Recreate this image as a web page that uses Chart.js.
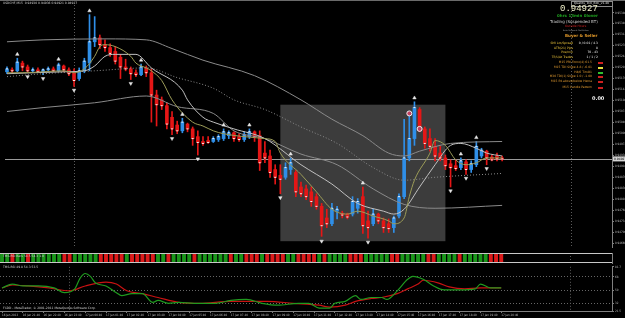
<!DOCTYPE html>
<html>
<head>
<meta charset="utf-8">
<script src="https://cdn.jsdelivr.net/npm/chart.js@4.4.0/dist/chart.umd.min.js"></script>
<style>
  html, body { margin: 0; padding: 0; background: #000; }
  #wrap { position: relative; width: 625px; height: 318px; overflow: hidden; background: #000;
          font-family: 'DejaVu Sans', sans-serif; }
  canvas { position: absolute; left: 0; }
  .t { position: absolute; white-space: nowrap; line-height: 1; }
  .r { text-align: right; }
  .mk { position: absolute; width: 5px; height: 2px; }
</style>
</head>
<body>
<div id="wrap">
  <canvas id="main" width="625" height="252" style="top:0"></canvas>
  <canvas id="strip" width="625" height="12" style="top:252px"></canvas>
  <canvas id="rsi" width="625" height="54" style="top:264px"></canvas>

  <div style="position:absolute;left:0;top:0;width:625px;height:1px;background:#6a6a6a"></div>

  <div class="t" style="left:3px;top:2px;font-size:3px;color:#cfcfcf">USDCHF,M15&nbsp; 0.94930 0.94936 0.94921 0.94927</div>
  <div class="t" style="left:3px;top:255px;font-size:3px;color:#cfcfcf">TMS-RSI Bars 54.5 54.3 1.0</div>
  <div class="t" style="left:3px;top:266px;font-size:3px;color:#cfcfcf">TMS-RSI 49.8 54.3 53.5</div>
  <div class="t" style="left:3px;top:307px;font-size:3px;color:#cfcfcf">FXDD - MetaTrader, © 2001-2011 MetaQuotes Software Corp.</div>

  <!-- info panel -->
  <div class="t" style="left:571px;top:1px;width:34px;height:4px;border:1px solid #8a8a8a;font-size:3px;color:#e0e0e0;padding:0 4px 0 2px">Quants_Tool_Box_v1.4b</div>
  <div class="t" style="left:560px;top:5px;font-size:9px;color:#f0f0c8;font-family:'Liberation Mono',monospace">0.94927</div>
  <div class="t" style="left:557px;top:14px;font-size:4px;font-weight:bold;color:#1fa01f">0hrs 13min 0lover</div>
  <div class="t" style="left:550px;top:20px;font-size:4px;color:#cfcfcf">Trading (Suspended BT)</div>
  <div class="t" style="left:565px;top:25px;font-size:3px;color:#d02020">Outside Hours</div>
  <div class="t" style="left:563px;top:29px;font-size:2px;color:#a0a0a0">Auto Suspend: Not Active</div>
  <div class="t" style="left:565px;top:34px;font-size:4px;font-weight:bold;color:#e49a2a">Buyer &amp; Seller</div>

  <div class="t r" style="right:52px;top:42px;font-size:3px;color:#e8c23a">SMI Lot/Spread</div>
  <div class="t r" style="right:27px;top:42px;font-size:3px;color:#f0f0f0">0 / 0.01 / 4.3</div>
  <div class="t r" style="right:52px;top:46.5px;font-size:3px;color:#e8c23a">ATR(21) Pips</div>
  <div class="t r" style="right:27px;top:46.5px;font-size:3px;color:#f0f0f0">8</div>
  <div class="t r" style="right:52px;top:51px;font-size:3px;color:#e8c23a">Pos/min</div>
  <div class="t r" style="right:27px;top:51px;font-size:3px;color:#f0f0f0">70 - 43</div>
  <div class="t r" style="right:52px;top:56px;font-size:3px;color:#e8c23a">TP/L/At Trades</div>
  <div class="t r" style="right:27px;top:56px;font-size:3px;color:#f0f0f0">1 / 1 / 2</div>

  <div class="t r" style="right:33px;top:61px;font-size:3px;color:#e09a30">M15 PRI Fomo(4) 61.5</div>
  <div class="mk" style="left:598px;top:62px;background:#d02020"></div>
  <div class="t r" style="right:33px;top:65.5px;font-size:3px;color:#e09a30">M15 TDI Slope 4.8 / -6.01</div>
  <div class="mk" style="left:598px;top:66.5px;background:#e8e040"></div>
  <div class="t r" style="right:33px;top:70.5px;font-size:3px;color:#e09a30">H4/6 TimO1</div>
  <div class="mk" style="left:598px;top:71.5px;background:#30c030"></div>
  <div class="t r" style="right:33px;top:75px;font-size:3px;color:#e09a30">M30 TDI(1) Slope 1.0 / -1.00</div>
  <div class="mk" style="left:598px;top:76px;background:#d02020"></div>
  <div class="t r" style="right:33px;top:80px;font-size:3px;color:#e09a30">M15 Pd.above/below Hema</div>
  <div class="mk" style="left:598px;top:81px;background:#d02020"></div>
  <div class="t r" style="right:33px;top:85.5px;font-size:3px;color:#e09a30">M15 Candle Pattern</div>
  <div class="mk" style="left:598px;top:86.5px;background:#d02020"></div>
  <div class="t" style="left:592px;top:96px;font-size:5px;font-weight:bold;color:#f0f0f0">0.00</div>
</div>

<script>
// USDCHF M15, 16 Jan 20:40 -> 17 Jan 20:40 (one bar per 15 minutes)
const opens = [
  0.95197, 0.95203, 0.95200, 0.95224, 0.95212, 0.95200, 0.95203, 0.95197, 0.95203, 0.95206,
  0.95200, 0.95215, 0.95203, 0.95194, 0.95176, 0.95200, 0.95224, 0.95290, 0.95302, 0.95281,
  0.95272, 0.95260, 0.95242, 0.95212, 0.95206, 0.95194, 0.95188, 0.95209, 0.95194, 0.95125,
  0.95110, 0.95092, 0.95056, 0.95032, 0.95014, 0.95035, 0.95020, 0.94996, 0.94981, 0.94984,
  0.94981, 0.94987, 0.94990, 0.94999, 0.95008, 0.94996, 0.94987, 0.94996, 0.95011, 0.94999,
  0.94945, 0.94936, 0.94894, 0.94876, 0.94870, 0.94894, 0.94885, 0.94840, 0.94834, 0.94825,
  0.94810, 0.94780, 0.94744, 0.94726, 0.94765, 0.94759, 0.94756, 0.94756, 0.94774, 0.94810,
  0.94735, 0.94726, 0.94756, 0.94735, 0.94726, 0.94714, 0.94750, 0.94810, 0.94930, 0.94990,
  0.95080, 0.95020, 0.94990, 0.94966, 0.94945, 0.94930, 0.94912, 0.94906, 0.94900, 0.94918,
  0.94894, 0.94909, 0.94936, 0.94951, 0.94933, 0.94936, 0.94930
];
const highs = [
  0.95212, 0.95209, 0.95239, 0.95230, 0.95218, 0.95209, 0.95209, 0.95206, 0.95212, 0.95212,
  0.95224, 0.95218, 0.95209, 0.95206, 0.95209, 0.95239, 0.95374, 0.95368, 0.95311, 0.95296,
  0.95284, 0.95275, 0.95251, 0.95236, 0.95212, 0.95203, 0.95221, 0.95215, 0.95206, 0.95140,
  0.95119, 0.95101, 0.95074, 0.95044, 0.95053, 0.95038, 0.95026, 0.95014, 0.94996, 0.94996,
  0.94996, 0.95002, 0.95020, 0.95014, 0.95011, 0.95005, 0.95011, 0.95020, 0.95014, 0.95014,
  0.94981, 0.94954, 0.94909, 0.94909, 0.94915, 0.94930, 0.94891, 0.94855, 0.94846, 0.94840,
  0.94819, 0.94789, 0.94771, 0.94789, 0.94780, 0.94765, 0.94759, 0.94810, 0.94804, 0.94840,
  0.94765, 0.94771, 0.94759, 0.94744, 0.94741, 0.94750, 0.94819, 0.95050, 0.95074, 0.95104,
  0.95086, 0.95026, 0.95020, 0.94990, 0.94966, 0.94939, 0.94924, 0.94924, 0.94930, 0.94924,
  0.94921, 0.94981, 0.94960, 0.94954, 0.94939, 0.94945, 0.94936
];
const lows = [
  0.95191, 0.95194, 0.95197, 0.95200, 0.95194, 0.95194, 0.95194, 0.95188, 0.95197, 0.95197,
  0.95197, 0.95197, 0.95185, 0.95152, 0.95170, 0.95194, 0.95200, 0.95275, 0.95269, 0.95260,
  0.95245, 0.95221, 0.95176, 0.95200, 0.95173, 0.95182, 0.95185, 0.95182, 0.95041, 0.95029,
  0.95080, 0.95020, 0.95002, 0.95005, 0.95008, 0.95011, 0.94969, 0.94939, 0.94969, 0.94975,
  0.94978, 0.94981, 0.94984, 0.94990, 0.94981, 0.94981, 0.94981, 0.94990, 0.94981, 0.94891,
  0.94915, 0.94870, 0.94849, 0.94819, 0.94864, 0.94879, 0.94810, 0.94810, 0.94801, 0.94780,
  0.94771, 0.94687, 0.94714, 0.94720, 0.94741, 0.94744, 0.94741, 0.94750, 0.94759, 0.94696,
  0.94681, 0.94720, 0.94726, 0.94699, 0.94699, 0.94699, 0.94744, 0.94804, 0.94921, 0.94969,
  0.95011, 0.94960, 0.94951, 0.94921, 0.94921, 0.94894, 0.94840, 0.94891, 0.94894, 0.94879,
  0.94885, 0.94903, 0.94930, 0.94909, 0.94921, 0.94921, 0.94921
];
const closes = [
  0.95206, 0.95200, 0.95227, 0.95212, 0.95200, 0.95203, 0.95197, 0.95203, 0.95206, 0.95200,
  0.95218, 0.95203, 0.95191, 0.95170, 0.95200, 0.95230, 0.95290, 0.95302, 0.95281, 0.95272,
  0.95254, 0.95230, 0.95212, 0.95206, 0.95191, 0.95188, 0.95212, 0.95194, 0.95125, 0.95095,
  0.95092, 0.95035, 0.95020, 0.95014, 0.95041, 0.95020, 0.94990, 0.94978, 0.94975, 0.94978,
  0.94990, 0.94996, 0.95011, 0.95008, 0.94990, 0.94987, 0.95002, 0.95011, 0.94996, 0.94915,
  0.94930, 0.94885, 0.94870, 0.94864, 0.94900, 0.94915, 0.94825, 0.94819, 0.94810, 0.94795,
  0.94780, 0.94720, 0.94726, 0.94774, 0.94771, 0.94753, 0.94747, 0.94795, 0.94795, 0.94720,
  0.94714, 0.94756, 0.94735, 0.94714, 0.94711, 0.94744, 0.94810, 0.94930, 0.94990, 0.95086,
  0.95020, 0.94975, 0.94966, 0.94936, 0.94930, 0.94906, 0.94900, 0.94897, 0.94921, 0.94894,
  0.94912, 0.94966, 0.94954, 0.94930, 0.94924, 0.94927, 0.94927
];

// indicator lines: [bar, price]
const maFast = [[0,0.95194],[3,0.95194],[7,0.95197],[11,0.95200],[13,0.95194],[15,0.95206],[17,0.95245],
  [18,0.95275],[19,0.95281],[21,0.95275],[24,0.95245],[25,0.95224],[27,0.95209],[28,0.95200],[30,0.95170],
  [32,0.95110],[36,0.95041],[38,0.95029],[40,0.95014],[42,0.95005],[46,0.94996],[50,0.94990],[52,0.94981],
  [53,0.94945],[57,0.94879],[60,0.94825],[63,0.94771],[66,0.94756],[68,0.94765],[71,0.94750],[74,0.94735],
  [75,0.94726],[77,0.94744],[78,0.94810],[79,0.94861],[82,0.94945],[83,0.94984],[85,0.94969],[87,0.94924],
  [89,0.94909],[91,0.94915],[93,0.94930],[96,0.94930]];
const maSlow = [[0,0.95191],[11,0.95197],[15,0.95200],[17,0.95215],[19,0.95245],[21,0.95251],[25,0.95251],
  [28,0.95209],[34,0.95140],[35,0.95110],[38,0.95056],[40,0.95041],[44,0.95020],[50,0.94990],[57,0.94909],
  [63,0.94849],[68,0.94789],[73,0.94765],[75,0.94756],[77,0.94771],[80,0.94840],[83,0.94909],[86,0.94969],
  [88,0.94975],[91,0.94960],[93,0.94945],[96,0.94936]];
const bandUpper = [[0,0.95290],[7,0.95296],[19,0.95299],[27,0.95296],[32,0.95269],[38,0.95233],[48,0.95185],
  [57,0.95110],[63,0.95050],[69,0.94999],[74,0.94945],[77,0.94936],[80,0.94951],[86,0.94975],[96,0.94981]];
const bandMid = [[0,0.95182],[7,0.95191],[17,0.95200],[27,0.95209],[33,0.95179],[40,0.95146],[44,0.95110],
  [50,0.95080],[57,0.95026],[64,0.94975],[71,0.94900],[77,0.94861],[83,0.94870],[96,0.94882]];
const bandLower = [[0,0.95074],[7,0.95086],[17,0.95101],[27,0.95122],[33,0.95089],[40,0.95068],[44,0.95014],
  [50,0.94990],[57,0.94942],[64,0.94909],[71,0.94834],[77,0.94786],[83,0.94774],[96,0.94783]];

// fractal marks and signal circles: [bar, price]
const fractalUp = [[2,0.95251],[10,0.95236],[16,0.95386],[26,0.95233],[34,0.95065],[42,0.95032],[47,0.95032],
  [55,0.94942],[69,0.94852],[79,0.95116],[88,0.94942],[91,0.94993]];
const fractalDown = [[4,0.95182],[7,0.95176],[13,0.95140],[24,0.95161],[32,0.94990],[37,0.94927],[53,0.94807],
  [61,0.94672],[70,0.94669],[86,0.94828],[89,0.94867],[93,0.94897]];
const signalMarks = [[78,0.95068],[80,0.95020]];

// drawn rectangle and day separators (bar positions / prices)
const boxStart = 53, boxEnd = 85, boxTop = 0.95095, boxBottom = 0.94672;
const daySplits = [12.9, 109.3];

const priceTicks = [0.95380, 0.95346, 0.95312, 0.95278, 0.95244, 0.95210, 0.95176, 0.95142, 0.95108, 0.95074,
  0.95040, 0.95006, 0.94972, 0.94938, 0.94904, 0.94870, 0.94836, 0.94802, 0.94768, 0.94734, 0.94700, 0.94666];

// TMS-RSI bars (G = green, R = red), one per bar
const stripState = ('GGRGGRGGG' + 'GGG' + 'RR' + 'GGGGGR' + 'RRRRGRRRRR' + 'GGRGGGGRGGG' + 'GGGRGGRRRG' +
  'RRRRGGRR' + 'RRGRGGGGRRRGGGGGRRGGGGGRRGGGGRGGGGGRRR').split('');

// TMS-RSI lines: [bar, value]
const rsiFast = [[0,52.9],[2,58.2],[4,55.6],[7,55.6],[10,52.9],[12,46.4],[14,51.6],[15,66],[16,72.6],[17,68.7],
  [18,59.5],[20,55.6],[22,46.4],[23,42.5],[25,45.1],[27,45.1],[29,33.3],[30,35.9],[32,32],[34,33.3],[37,32],
  [41,32],[44,35.9],[47,37.2],[50,32],[53,29.4],[57,32],[59,32],[61,25.5],[63,25.5],[64,32],[66,34.6],[68,42.5],
  [69,37.2],[71,39.9],[73,39.9],[74,37.2],[76,49],[78,64.7],[79,68.7],[81,64.7],[83,55.6],[85,50.3],[88,50.3],
  [91,51.6],[92,58.2],[94,52.9],[96,52.9]];
const rsiSlow = [[0,52.9],[2,56.9],[5,55.6],[9,52.9],[13,49],[16,55.6],[20,60.8],[22,58.2],[24,49],[27,45.1],
  [30,39.9],[34,33.3],[38,32],[44,34.6],[51,34.6],[56,32],[61,29.4],[63,26.8],[66,29.4],[68,34.6],[71,38.5],
  [73,39.9],[76,45.1],[78,51.6],[80,58.2],[81,63.4],[84,59.5],[86,54.3],[89,51.6],[92,52.9],[96,52.9]];
const rsiLevels = [32, 50, 68];
const rsiTicks = [21.5, 32, 50, 68, 81.7];

const timeLabels = ['16 Jan 2013', '16 Jan 21:40', '16 Jan 22:40', '16 Jan 23:40', '17 Jan 00:40', '17 Jan 01:40',
  '17 Jan 02:40', '17 Jan 03:40', '17 Jan 04:40', '17 Jan 05:40', '17 Jan 06:40', '17 Jan 07:40', '17 Jan 08:40',
  '17 Jan 09:40', '17 Jan 10:40', '17 Jan 11:40', '17 Jan 12:40', '17 Jan 13:40', '17 Jan 14:40', '17 Jan 15:40',
  '17 Jan 16:40', '17 Jan 17:40', '17 Jan 18:40', '17 Jan 19:40', '17 Jan 20:40'];

const X_MIN = -0.385, X_MAX = 117.3;
const BLUE = '#2f8fe8', RED = '#e51616';
const tinyFont = { size: 3, family: "'DejaVu Sans Condensed', 'DejaVu Sans', sans-serif" };
const lastClose = closes[closes.length - 1];
const pts = arr => arr.map(([x, y]) => ({ x, y }));

const overlay = {
  id: 'overlay',
  beforeDatasetsDraw(chart, args, opts) {
    const { ctx, chartArea: a, scales: { x, y } } = chart;
    ctx.save();
    if (opts.box) {
      const x1 = x.getPixelForValue(boxStart), x2 = x.getPixelForValue(boxEnd);
      const y1 = y.getPixelForValue(boxTop), y2 = y.getPixelForValue(boxBottom);
      ctx.fillStyle = '#3c3c3c';
      ctx.fillRect(x1, y1, x2 - x1, y2 - y1);
    }
    ctx.strokeStyle = '#5c5c5c';
    ctx.lineWidth = 1;
    ctx.setLineDash([1, 2]);
    daySplits.forEach(d => {
      const px = Math.round(x.getPixelForValue(d)) + 0.5;
      ctx.beginPath(); ctx.moveTo(px, a.top); ctx.lineTo(px, a.bottom); ctx.stroke();
    });
    ctx.setLineDash([]);
    if (opts.bid) {
      const py = Math.round(y.getPixelForValue(lastClose)) + 0.5;
      ctx.strokeStyle = '#9a9a9a';
      ctx.beginPath(); ctx.moveTo(a.left, py); ctx.lineTo(a.right, py); ctx.stroke();
    }
    ctx.restore();
  },
  afterDatasetsDraw(chart, args, opts) {
    if (!opts.frame) return;
    const { ctx, chartArea: a } = chart;
    ctx.save();
    ctx.strokeStyle = '#c8c8c8';
    ctx.lineWidth = 1;
    ctx.beginPath();
    ctx.moveTo(a.left, a.top + 0.5); ctx.lineTo(a.right, a.top + 0.5);
    ctx.moveTo(a.left, a.bottom - 0.5); ctx.lineTo(a.right, a.bottom - 0.5);
    ctx.stroke();
    ctx.restore();
  }
};

const priceTag = {
  id: 'priceTag',
  afterDraw(chart) {
    const { ctx, chartArea: a, scales: { y } } = chart;
    const py = y.getPixelForValue(lastClose);
    ctx.save();
    ctx.fillStyle = '#d4d4d4';
    ctx.fillRect(a.right + 1, py - 2.5, 12, 5);
    ctx.fillStyle = '#000';
    ctx.font = "3px 'DejaVu Sans'";
    ctx.textBaseline = 'middle';
    ctx.fillText(lastClose.toFixed(5), a.right + 2, py);
    ctx.restore();
  }
};

const candleColors = closes.map((c, i) => (c >= opens[i] ? BLUE : RED));
const base = { responsive: false, animation: false, events: [],
  plugins: { legend: { display: false }, tooltip: { enabled: false } } };
const rightAxisWidth = s => { s.width = 13; };

new Chart(document.getElementById('main'), {
  type: 'bar',
  data: {
    datasets: [
      { type: 'scatter', data: pts(fractalUp), pointStyle: 'triangle', pointRadius: 2,
        backgroundColor: '#e6e6e6', borderColor: '#e6e6e6', borderWidth: 0.5 },
      { type: 'scatter', data: pts(fractalDown), pointStyle: 'triangle', rotation: 180, pointRadius: 2,
        backgroundColor: '#e6e6e6', borderColor: '#e6e6e6', borderWidth: 0.5 },
      { type: 'scatter', data: pts(signalMarks), pointStyle: 'circle', pointRadius: 2.5,
        backgroundColor: '#c04060', borderColor: '#f0f0f0', borderWidth: 1 },
      { type: 'line', data: pts(maFast), borderColor: '#9c9c58', borderWidth: 1, pointRadius: 0,
        cubicInterpolationMode: 'monotone' },
      { type: 'line', data: pts(maSlow), borderColor: '#c0c0c0', borderWidth: 1, pointRadius: 0,
        cubicInterpolationMode: 'monotone' },
      { type: 'line', data: pts(bandUpper), borderColor: '#8a8a8a', borderWidth: 1, pointRadius: 0,
        cubicInterpolationMode: 'monotone' },
      { type: 'line', data: pts(bandMid), borderColor: '#8a8a8a', borderWidth: 1, borderDash: [1, 2],
        pointRadius: 0, cubicInterpolationMode: 'monotone' },
      { type: 'line', data: pts(bandLower), borderColor: '#8a8a8a', borderWidth: 1, pointRadius: 0,
        cubicInterpolationMode: 'monotone' },
      { type: 'scatter', data: closes.map((c, i) => ({ x: i, y: c })), pointStyle: 'line', pointRadius: 1,
        borderColor: '#f4f4f4', borderWidth: 1 },
      { data: opens.map((o, i) => ({ x: i, y: [o, closes[i]] })), backgroundColor: candleColors,
        barThickness: 3, minBarLength: 1, grouped: false },
      { data: lows.map((l, i) => ({ x: i, y: [l, highs[i]] })), backgroundColor: candleColors,
        barThickness: 1, grouped: false }
    ]
  },
  options: {
    ...base,
    layout: { padding: { top: 2, bottom: 0, left: 0, right: 0 } },
    plugins: { ...base.plugins, overlay: { box: true, bid: true } },
    scales: {
      x: { type: 'linear', min: X_MIN, max: X_MAX, offset: false, display: false },
      y: { type: 'linear', position: 'right', min: 0.94654, max: 0.95404,
        afterFit: rightAxisWidth,
        afterBuildTicks: s => { s.ticks = priceTicks.map(v => ({ value: v })); },
        ticks: { color: '#b8b8b8', font: tinyFont, padding: 1, callback: v => v.toFixed(5) },
        grid: { drawOnChartArea: false, color: '#808080', tickLength: 2 },
        border: { color: '#808080' } }
    }
  },
  plugins: [overlay, priceTag]
});

new Chart(document.getElementById('strip'), {
  type: 'bar',
  data: {
    datasets: [{ data: stripState.map((s, i) => ({ x: i, y: 1 })),
      backgroundColor: stripState.map(s => (s === 'G' ? '#1a961a' : '#dc1a1a')),
      barPercentage: 0.75, categoryPercentage: 1, grouped: false }]
  },
  options: {
    ...base,
    layout: { padding: { top: 1, bottom: 1, left: 0, right: 0 } },
    plugins: { ...base.plugins, overlay: { frame: true } },
    scales: {
      x: { type: 'linear', min: X_MIN, max: X_MAX, offset: false, display: false },
      y: { position: 'right', min: -0.1, max: 1.1, afterFit: rightAxisWidth,
        ticks: { display: false }, grid: { display: false }, border: { color: '#808080' } }
    }
  },
  plugins: [overlay]
});

new Chart(document.getElementById('rsi'), {
  type: 'line',
  data: {
    datasets: [
      { data: pts(rsiFast), borderColor: '#1f9a1f', borderWidth: 1.2, pointRadius: 0,
        cubicInterpolationMode: 'monotone' },
      { data: pts(rsiSlow), borderColor: '#c81212', borderWidth: 1.2, pointRadius: 0,
        cubicInterpolationMode: 'monotone' }
    ]
  },
  options: {
    ...base,
    layout: { padding: { top: 1, bottom: 0, left: 0, right: 0 } },
    plugins: { ...base.plugins, overlay: {} },
    scales: {
      x: { type: 'linear', min: X_MIN, max: X_MAX, offset: false,
        afterFit: s => { s.height = 7; },
        afterBuildTicks: s => { s.ticks = timeLabels.map((t, k) => ({ value: k * 4 })); },
        ticks: { autoSkip: false, maxRotation: 0, align: 'start', font: tinyFont, color: '#b8b8b8', padding: 0,
          callback: v => timeLabels[v / 4] },
        grid: { drawOnChartArea: false, color: '#808080', tickLength: 2 },
        border: { color: '#808080' } },
      y: { position: 'right', min: 21.5, max: 81.7, afterFit: rightAxisWidth,
        afterBuildTicks: s => { s.ticks = rsiTicks.map(v => ({ value: v })); },
        ticks: { font: tinyFont, color: '#b8b8b8', padding: 1, callback: v => String(v) },
        grid: { color: c => (c.tick && rsiLevels.includes(c.tick.value) ? '#666666' : 'transparent'),
          tickColor: '#808080', tickLength: 2 },
        border: { color: '#808080', dash: [1, 2] } }
    }
  },
  plugins: [overlay]
});
</script>
</body>
</html>
